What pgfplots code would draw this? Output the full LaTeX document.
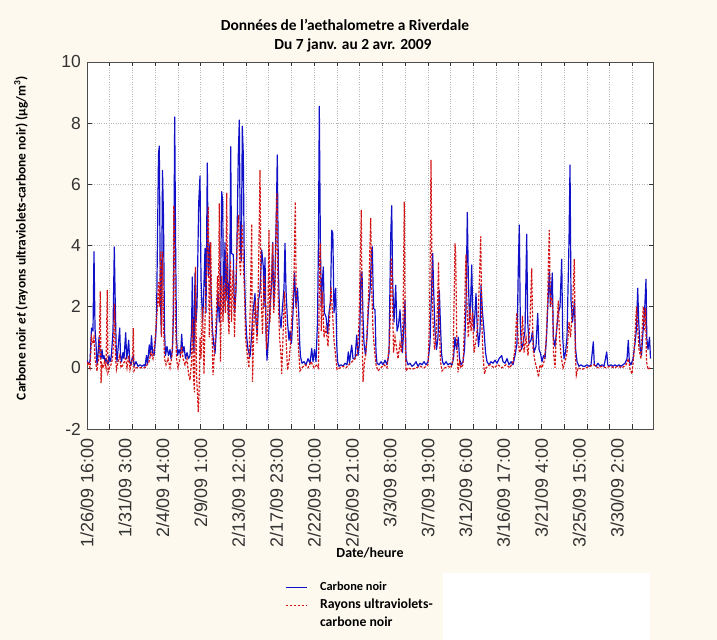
\documentclass[border=0pt]{standalone}
\usepackage{fontspec}
\setmainfont{Liberation Sans}
\newfontfamily\calfont{Carlito}
\usepackage{pgfplots}
\pgfplotsset{compat=1.18}
\usepackage{pgfplotstable}
\definecolor{bgcream}{HTML}{FDF9EE}
\definecolor{bcline}{HTML}{1010C8}
\definecolor{uvline}{HTML}{D41414}
\definecolor{gridg}{HTML}{B8B8B8}

% Carbone noir (x = position along the time axis, y = ug/m3)
\pgfplotstableread{
x y
0 0.25
1 0.15
3 0.2
4.5 1.3
6 1.2
7 3.8
8 1.3
9 0.8
10 0.1
11 0.4
12 1.0
13 0.5
14 0.3
15 0.6
16 0.3
17 0.4
18 0.2
19 0.3
20 0.2
21 0.1
22 0.4
23 0.2
24 0.3
25 0.7
26 1.2
27.3 3.95
28.3 2.0
29.3 0.5
30 0.2
31 0.6
32.7 1.3
33.5 0.4
34.5 0.2
36 0.5
37 0.3
38.7 1.15
39.7 0.3
40.5 0.5
41.7 0.9
42.7 0.2
44 0.1
45 0.3
46.3 0.4
47 0.05
49 0.2
51 0.05
53 0.1
55 0.05
57 0.1
58 0.05
59.5 0.4
60.5 0.1
62.3 0.75
63.3 0.4
64.5 1.05
65.5 0.5
67 0.4
68.5 0.9
69.5 1.5
70.3 3.7
71.5 7.0
72.3 7.25
73.3 2.5
74.3 1.1
75.5 6.45
76.5 4.9
77.5 1.2
78.5 0.4
80 0.7
81.5 0.4
83 0.6
84 0.3
85.5 0.6
86.5 1.8
87.7 8.2
88.5 4.4
89.5 1.0
90.5 0.4
92 0.6
93.5 0.4
94.7 1.1
95.7 0.5
97 0.7
98.5 0.3
100 0.5
101.5 0.3
103 0.4
104.5 1.2
105.3 2.97
106.2 1.0
107 0.5
108 3.1
109 1.5
110 2.0
111.7 5.38
113 6.27
114 2.9
115.5 1.5
116.5 2.2
118 3.9
119 1.8
120.3 6.7
121.3 3.0
123 4.1
124 2.5
125.5 1.2
127 0.7
128 0.47
129.5 1.3
131 2.5
132.3 1.5
133.3 2.0
134.7 5.76
135.7 5.43
136.5 1.8
138 4.1
139 2.2
140.5 3.7
141.5 1.5
142.8 3.0
143.7 7.23
144.5 3.74
146.3 3.7
147.5 1.8
149 2.5
149.7 3.6
151.3 6.96
152.3 8.1
153.3 4.0
154.3 3.5
155.3 7.9
156.3 6.96
157.3 3.3
158.5 1.8
159.7 1.0
161 0.6
163 0.36
164.5 1.0
166 1.8
168 2.43
169 1.5
170.3 1.1
171.5 2.2
173 2.5
174.7 3.85
176.3 3.3
177 2.0
178 3.6
179 1.2
180 0.25
181.5 1.0
183 2.0
184.5 2.7
185.7 4.1
186.7 2.0
188 3.0
189.3 5.0
190.3 6.96
191.3 3.3
192.5 1.8
194 1.3
195.5 2.0
197 2.6
198 4.07
199 2.54
200.5 1.5
202 0.9
203 1.2
204.5 0.8
206 1.8
207.5 3.1
209 2.0
210.5 2.6
211.7 1.8
212.7 0.8
213.5 0.36
215 0.15
217 0.2
219 0.1
221 0.3
223 0.15
224.7 0.63
226 0.2
227.5 0.6
229 0.2
230.5 1.5
231.5 4.3
232.3 8.55
233.3 4.3
234.3 2.0
235.3 2.8
236.3 3.3
237.3 1.8
239 1.67
240.7 1.12
242 1.8
243.5 2.2
244.7 4.5
245.8 4.4
247 1.8
248.7 2.6
249.7 0.8
250.5 0.2
252 0.05
254 0.1
256 0.05
258 0.15
260 0.1
261.3 0.52
262.5 0.15
263.7 0.5
264.7 0.74
266 0.3
268 0.3
269.7 1.07
271 0.4
272.5 0.8
274 3.1
275 3.14
276 1.67
277 0.8
278.5 0.4
280 1.0
281.5 2.0
283 2.5
284.5 3.75
285.3 3.96
286.5 1.94
288 1.9
289 0.5
290 0.15
292 0.1
294 0.2
296 0.1
298 0.25
300 0.1
302 0.5
303.7 4.3
304.7 5.3
305.7 2.76
307 1.5
308.7 2.7
310 1.2
311.5 1.4
313 1.9
314 1.2
315.5 0.5
317 1.5
318 2.2
319 0.3
321 0.1
323 0.15
325 0.05
327 0.1
329 0.2
331 0.05
333 0.15
335 0.1
337 0.2
339 0.1
341 0.2
343 0.8
344 2.0
345.7 3.74
346.7 2.5
348 1.2
349.5 0.6
351 1.0
352.3 2.54
353.5 1.35
354.5 0.5
355.5 0.2
357 0.1
359 0.2
361 0.1
363 0.15
365 0.1
366.5 0.3
368 1.0
369.5 0.6
371.3 1.0
372.5 0.3
374 0.1
376 0.2
377.5 0.6
379 2.0
380.3 5.08
381.3 2.98
382.5 1.5
383.5 2.0
384.7 3.36
385.7 1.8
387 1.2
389 2.43
390 1.5
391.5 0.7
393 1.2
394 2.7
395.5 1.8
397 1.23
398.5 0.5
400 0.2
402 0.1
404 0.2
406 0.15
408 0.25
410 0.15
412 0.3
414.7 0.4
416 0.2
418 0.15
420 0.3
422 0.1
424 0.2
426 0.1
428 0.4
430 0.8
431.3 3.3
432.3 4.67
433.3 1.45
434.5 0.6
436 0.8
438 1.2
439.7 4.37
440.7 1.5
442 0.8
444 0.9
445.5 1.2
447 0.5
449 0.7
450.7 1.78
452 0.6
453.5 0.47
455 0.2
456.5 0.4
458 0.3
459.5 1.0
461 2.2
462.3 3.14
463.5 2.0
465.3 3.1
466.3 1.0
468 0.7
469.5 1.2
471.3 1.8
473 2.0
474.7 3.55
475.7 1.0
477 0.3
478.5 0.5
480 1.0
482 4.17
483 6.63
484 2.2
485.5 1.5
487.5 2.2
488.5 0.63
490 0.2
492 0.05
494 0.1
496 0.05
498 0.05
500 0.1
502 0.05
504 0.1
506.3 0.85
507.3 0.1
509 0.05
511 0.15
513 0.05
515 0.1
517 0.05
519.7 0.52
520.7 0.1
522 0.05
524 0.1
526 0.05
528 0.1
530 0.05
532 0.1
534 0.05
536 0.1
538 0.15
540 0.3
541.3 0.9
542.3 0.2
544 0.1
546 0.3
548 0.8
549.5 1.3
550.7 2.6
551.7 1.5
553 0.7
554.5 0.4
556 1.2
557.5 1.8
559 2.9
559.8 0.96
561 0.6
562.5 1.0
563.5 0.3
}\bcdata

% Rayons ultraviolets - carbone noir
\pgfplotstableread{
x y
0 0.1
1 0.2
3 0.0
4.5 1.0
6 0.8
7 1.0
8 0.3
9 0.1
10 -0.1
11 0.2
12 0.3
13.3 2.5
14 -0.5
15 0.1
16 0.0
17.5 0.2
19 0.0
20.3 2.55
21 -0.15
22.5 0.0
24 0.1
25.5 0.3
26.5 0.8
27.5 2.1
28.5 0.3
29.5 -0.05
31 0.2
32.7 0.4
34 0.0
36 0.1
38.7 0.3
40 0.0
41.7 0.4
43 -0.05
45.5 0.3
46.3 1.3
47 -0.1
49 0.0
53 0.0
58 0.0
60 0.1
62 0.2
64 0.5
66 0.3
68 0.9
69.5 1.6
70.5 2.0
71.5 2.8
72.5 2.0
73.5 3.8
74.5 1.0
75.5 3.8
76.5 1.5
77.5 0.3
79 0.1
81 0.3
83 0.0
85 0.4
86 1.3
86.8 5.3
87.8 3.5
88.6 1.5
89.5 0.3
91 0.0
93 0.3
94.7 0.7
96 0.3
98 0.1
100 0.3
101.5 -0.2
103 -0.4
104.5 0.2
105.5 1.6
106.5 -0.3
107.5 -0.8
108.5 3.3
109.5 -0.2
110.5 -0.9
111.3 -1.45
112 -0.9
113 1.0
114 0.3
115.5 2.0
117 -0.2
118.5 2.3
120 3.5
121.3 5.27
122.3 1.0
123.7 4.1
124.8 1.5
126 -0.24
127.5 0.5
129 1.5
130.5 3.0
131.5 2.0
132.3 5.38
133.5 0.2
134.7 3.0
136 1.5
137 2.7
138.5 1.8
139.7 5.72
140.7 2.0
142 1.1
143.5 3.5
144.5 1.5
146 3.2
147.5 1.0
149 3.0
150.5 4.5
151.5 5.0
152.5 3.6
153.5 3.0
155 4.7
156.5 3.3
157.5 2.4
158.5 1.0
160 0.5
162 0.0
163.5 2.5
164.7 4.7
165.5 -0.46
167 1.5
168.5 2.2
170 0.8
171.5 3.0
173 6.47
174 2.5
175.5 1.1
177 3.0
178 2.5
179.5 0.6
181 2.0
182 4.5
183 1.5
184.5 3.0
185.7 4.07
186.7 1.8
188 2.5
189.3 5.0
190 5.7
191 2.5
192.5 1.0
194 0.4
194.7 -0.2
196 1.0
197.5 2.5
199 1.0
200.5 -0.07
202 0.2
203.5 0.8
205 1.8
207 3.0
208.3 5.43
209.3 2.0
210.5 1.2
211.7 0.5
213 -0.1
215 0.0
218 0.1
221 0.0
224 0.2
227 0.0
230 0.1
231.5 0.0
232.5 3.5
233.3 4.07
234.3 1.2
235.5 2.5
237 1.0
239 1.3
241 0.7
242.5 1.5
244 2.65
245.5 1.8
247 0.9
248.7 0.36
250 -0.05
253 0.0
256 0.05
259 0.0
262 0.1
265 0.2
268 0.3
270.5 0.5
272 1.5
273.3 3.6
274.3 5.16
275.2 1.0
276 -0.46
277.5 0.2
279 0.5
280.5 1.5
282 2.8
283.7 4.9
284.8 2.5
286 1.2
287.5 0.6
289 0.1
291 -0.1
294 0.0
297 0.1
300 0.0
302.5 0.8
303.5 2.0
304.3 3.6
305.3 2.75
306.5 0.5
308 1.0
309.3 0.7
311 0.3
313 0.8
314.5 0.5
316 1.5
316.7 3.6
317.3 5.43
318.2 1.0
319 -0.1
321 0.0
325 -0.05
329 0.0
333 0.05
337 0.0
341 0.1
342.5 1.5
343.3 4.0
344 6.8
345 3.0
346 1.5
347.5 0.6
349 1.0
350.5 2.0
351.5 3.46
352.5 1.2
353.5 0.2
355 -0.1
358 0.0
361 0.05
364 0.0
366 0.3
367 2.0
368 4.07
368.7 3.74
369.7 1.0
371 -0.15
372.5 0.2
374 0.0
376 0.1
377.5 1.5
378.3 3.0
379 3.7
380 2.0
381.3 1.0
383 2.0
384 1.2
385.5 1.8
387 0.5
389 0.9
391 1.5
392.5 3.0
393.7 4.3
394.8 1.5
396 0.4
397.5 -0.2
399 0.0
403 0.1
407 0.0
411 0.1
415 0.0
419 0.1
423 0.0
426 0.2
428 0.6
429.7 1.8
431 1.0
432.5 0.5
434 0.6
435.5 1.7
437 0.5
439 1.0
441 0.4
443 1.5
444.7 3.25
446 0.6
448 0.2
450 -0.05
451.5 -0.3
453 0.1
455 0.0
457 0.2
459 0.8
460.5 2.0
461.5 3.5
462.3 4.5
463.3 2.0
464.5 2.3
465.5 2.16
466.5 0.5
468 0.0
469.5 1.2
471.3 2.2
472.5 1.0
474 0.4
476 0.0
478 0.2
480 0.5
482 1.5
483.5 1.0
485.5 2.0
487.3 3.55
488.3 0.5
489.3 -0.24
491 0.0
495 -0.05
499 0.0
503 0.05
507 0.1
511 0.0
515 0.05
519 0.0
523 0.05
527 0.0
531 0.05
535 0.0
539 0.1
541.5 0.3
543 -0.05
545 -0.2
547 0.5
549.5 2.0
550.7 1.3
552 0.6
554 0.3
555.5 1.5
556.3 2.0
557.5 1.2
558.5 1.95
559.5 0.2
561 -0.05
563 0.0
}\uvdata

\begin{document}
\begin{tikzpicture}[x=1bp,y=1bp]
\useasboundingbox (0,0) rectangle (717,640);
\fill[bgcream] (0,0) rectangle (717,640);
\fill[white] (443,0) rectangle (650,67);

\node[anchor=base] at (345,609) {\calfont\bfseries\fontsize{15.5}{18}\selectfont Données de l’aethalometre a Riverdale};
\node[anchor=base] at (353,590) {\calfont\bfseries\fontsize{15.5}{18}\selectfont Du 7 janv. au 2 avr. 2009};
\node[rotate=90] at (21,402) {\calfont\bfseries\fontsize{13.5}{16}\selectfont Carbone noir \textit{et} (rayons ultraviolets-carbone noir) (µg/m\textsuperscript{3})};
\node at (370,87) {\calfont\bfseries\fontsize{14}{16}\selectfont Date/heure};

\begin{axis}[
  at={(87bp,211bp)}, anchor=south west,
  scale only axis, width=566bp, height=367bp,
  xmin=0, xmax=566, ymin=-2, ymax=10,
  axis background/.style={fill=white},
  axis line style={draw=black!70},
  tick align=inside,
  major tick length=4.5bp, minor tick length=4.5bp,
  tick style={draw=black!80, line width=0.6bp},
  ytick={-2,0,2,4,6,8,10},
  grid=major,
  major grid style={gridg, dotted, line width=0.6bp},
  xtick={22.72,45.44,68.16,90.88,113.6,136.32,159.04,181.76,204.48,227.2,249.92,272.64,295.36,318.08,340.8,363.52,386.24,408.96,431.68,454.4,477.12,499.84,522.56,545.28},
  xticklabels={},
  extra x ticks={0,37.87,75.74,113.61,151.48,189.35,227.22,265.09,302.96,340.83,378.7,416.57,454.44,492.31,530.18},
  extra x tick labels={1/26/09 16:00,1/31/09 3:00,2/4/09 14:00,2/9/09 1:00,2/13/09 12:00,2/17/09 23:00,2/22/09 10:00,2/26/09 21:00,3/3/09 8:00,3/7/09 19:00,3/12/09 6:00,3/16/09 17:00,3/21/09 4:00,3/25/09 15:00,3/30/09 2:00},
  extra x tick style={major tick length=0pt, grid=none,
    xticklabel style={rotate=90, anchor=east, inner sep=0pt, xshift=-9bp, text=black!80, font=\fontsize{18}{18}\selectfont}},
  /pgf/number format/assume math mode=true,
  yticklabel style={anchor=east, inner sep=0pt, xshift=-6bp, text=black!80, font=\fontsize{17.5}{17.5}\selectfont},
  legend style={at={(rel axis cs:0.35,-0.411)}, anchor=north west, draw=none, fill=none,
    row sep=1bp, inner sep=0pt, nodes={inner sep=1.5bp, anchor=base west},
    /tikz/every odd column/.append style={column sep=11bp}},
  legend cell align=left,
  legend image code/.code={\draw[#1] (0bp,3bp) -- (21bp,3bp);},
]
\addplot[bcline, line width=1.2bp, line join=round] table[x=x, y=y] {\bcdata};
\addlegendentry{\calfont\bfseries\fontsize{12.4}{14}\selectfont Carbone noir}
\addplot[uvline, line width=1.2bp, dash pattern=on 2.5bp off 1.5bp] table[x=x, y=y] {\uvdata};
\addlegendentry{\calfont\bfseries\fontsize{13.8}{18}\selectfont\begin{tabular}[t]{@{}l@{}}Rayons ultraviolets-\\carbone noir\end{tabular}}
\end{axis}
\end{tikzpicture}
\end{document}
